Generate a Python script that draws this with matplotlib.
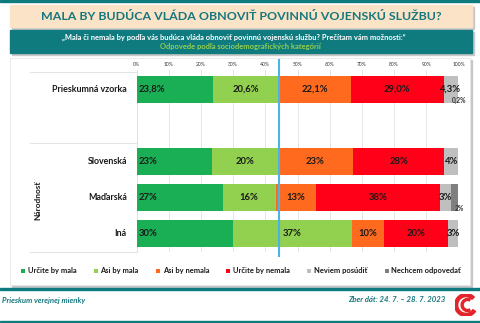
import matplotlib
matplotlib.use("Agg")
import matplotlib.pyplot as plt
from matplotlib.patches import Rectangle, Arc
import numpy as np

plt.rcParams['font.family'] = ['Lato', 'DejaVu Sans']

# ---------------- data ----------------
categories = ["Prieskumná vzorka", "Slovenská", "Maďarská", "Iná"]
positions = [0, 2, 3, 4]
series_names = ["Určite by mala", "Asi by mala", "Asi by nemala",
                "Určite by nemala", "Neviem posúdiť", "Nechcem odpovedať"]
urcite_by_mala = [23.8, 23.4, 26.8, 30.0]
asi_by_mala = [20.6, 20.4, 16.4, 36.8]
asi_by_nemala = [22.1, 23.4, 12.7, 10.0]
urcite_by_nemala = [29.0, 28.4, 38.3, 19.9]
neviem = [4.3, 4.2, 3.4, 3.3]
nechcem = [0.2, 0.2, 2.4, 0.0]
labels = [
    ["23,8%", "23%", "27%", "30%"],
    ["20,6%", "20%", "16%", "37%"],
    ["22,1%", "23%", "13%", "10%"],
    ["29,0%", "28%", "38%", "20%"],
    ["4,3%", "4%", "3%", "3%"],
    ["0,2%", "", "2%", ""],
]
ticks = [0, 10, 20, 30, 40, 50, 60, 70, 80, 90, 100]
tick_labels = [f"{t}%" for t in ticks]
positive_total = 44.4

colors = ["#1AAF54", "#92D050", "#FF6A1F", "#FF0018", "#BFBFBF", "#7F7F7F"]
series = [urcite_by_mala, asi_by_mala, asi_by_nemala, urcite_by_nemala, neviem, nechcem]

W, H = 480, 323
fig = plt.figure(figsize=(W / 100, H / 100), dpi=100)

def fx(x):
    return x / W

def fy(y):
    return 1 - y / H

teal = "#0F7B7F"

def rect(x, y_bottom, w, h, **kw):
    kw.setdefault("zorder", -5)
    fig.add_artist(Rectangle((fx(x), fy(y_bottom)), w / W, h / H, transform=fig.transFigure, **kw))

# top teal line
rect(0, 2, W, 2, color=teal)
# title box (shadow + box)
rect(12, 29, 462, 22, color="#C8C8C8")
rect(10, 27, 462, 22, color="#FAE3C6")
fig.text(fx(241), fy(16), "MALA BY BUDÚCA VLÁDA OBNOVIŤ POVINNÚ VOJENSKÚ SLUŽBU?",
         ha="center", va="center", fontsize=8.9, fontweight="bold", color="#16777D")
# subtitle box
rect(12, 55, 462, 23, color="#C8C8C8")
rect(10, 53, 462, 23, color=teal)
fig.text(fx(234), fy(37.5), "„Mala či nemala by podľa vás budúca vláda obnoviť povinnú vojenskú službu? Prečítam vám možnosti:“",
         ha="center", va="center", fontsize=5.4, fontweight="bold", color="white")
fig.text(fx(240), fy(46.5), "Odpovede podľa sociodemografických kategórií",
         ha="center", va="center", fontsize=5.4, fontweight="bold", color="#92D050")

# outer white box with shadow
rect(12, 287, 460, 227, color="#C8C8C8")
rect(10, 285, 460, 227, facecolor="white", edgecolor="#E6E6E6", lw=0.6)

# left panel lines
for yy in [72, 143, 252]:
    fig.add_artist(plt.Line2D([fx(30), fx(137)], [fy(yy), fy(yy)], color="#E4E4E4", lw=0.8,
                              transform=fig.transFigure, zorder=-1))

# axes
ax_top, ax_bot = 70, 252
ax = fig.add_axes([fx(136.5), fy(ax_bot), fx(458.5 - 136.5), (ax_bot - ax_top) / H])
ax.patch.set_alpha(0)
unit = 36.0
y_top = -(89.5 - ax_top) / unit
y_bot = 4 + (ax_bot - 233.5) / unit
ax.set_ylim(y_bot, y_top)
ax.set_xlim(0, 100)

left = np.zeros(len(categories))
for i, (vals, col) in enumerate(zip(series, colors)):
    vals = np.array(vals)
    ax.barh(positions, vals, left=left, height=0.76, color=col, zorder=3, label=series_names[i])
    for j, p in enumerate(positions):
        lab = labels[i][j]
        if not lab:
            continue
        if i == 0:
            ax.text(left[j] + 0.8, p, lab, ha="left", va="center", fontsize=6.8,
                    fontweight="bold", color="#1A1A1A", zorder=5)
        elif i == 5:
            ax.text(left[j] + vals[j] + 0.3, p + 0.3, lab, ha="center", va="center", fontsize=4.8,
                    fontweight="bold", color="#333333", zorder=5, clip_on=False)
        else:
            ax.text(left[j] + vals[j] / 2, p, lab, ha="center", va="center", fontsize=6.8,
                    fontweight="bold", color="#1A1A1A", zorder=5, clip_on=False)
    left = left + vals

ax.set_xticks(ticks)
ax.set_xticklabels(tick_labels, fontsize=3.6, color="#333333")
ax.xaxis.tick_top()
ax.tick_params(axis="x", length=0, pad=2)
ax.set_yticks([])
ax.grid(axis="x", color="#E2E2E2", lw=0.6, zorder=0)
for s in ["top", "right", "bottom"]:
    ax.spines[s].set_visible(False)
ax.spines["left"].set_color("#E0E0E0")
ax.spines["left"].set_linewidth(0.6)

# blue reference line
ax.plot([positive_total, positive_total], [4 + (256 - 233.5) / unit, -(89.5 - 60) / unit],
        color="#4BB4E6", lw=1.5, zorder=6, clip_on=False)

# category labels
for cat, p in zip(categories, positions):
    ax.text(-3.0, p, cat, ha="right", va="center", fontsize=6.4, fontweight="bold",
            color="#1A1A1A", clip_on=False)
fig.text(fx(38), fy(200), "Národnosť", rotation=90, ha="center", va="center",
         fontsize=6.0, fontweight="bold", color="#1A1A1A")

# legend
handles, lbls = ax.get_legend_handles_labels()
leg = fig.legend(handles, lbls, loc="center", bbox_to_anchor=(fx(241), fy(271)), ncol=6,
                 frameon=False, fontsize=5.4, handlelength=0.55, handleheight=0.55,
                 handletextpad=0.35, columnspacing=2.3)
for t in leg.get_texts():
    t.set_fontweight("bold")
    t.set_color("#1A1A1A")

# footer
rect(0, 290, W, 1.6, color=teal)
rect(0, 323, W, 2.0, color=teal)
fig.text(fx(2), fy(300), "Prieskum verejnej mienky", ha="left", va="center", fontsize=5.6,
         fontweight="bold", style="italic", color="#16777D")
fig.text(fx(445), fy(300), "Zber dát: 24. 7. – 28. 7. 2023", ha="right", va="center", fontsize=5.6,
         fontweight="bold", style="italic", color="#16777D")

# logo (red swirl)
lax = fig.add_axes([fx(455), fy(316), fx(22), 22 / H])
lax.set_xlim(-1, 1)
lax.set_ylim(-1, 1)
lax.set_aspect("equal")
lax.axis("off")
lax.add_patch(Arc((0, 0), 1.8, 1.8, theta1=40, theta2=330, color="#E3242B", lw=3.2))
lax.add_patch(Arc((0.15, 0.0), 1.0, 1.0, theta1=60, theta2=300, color="#E3242B", lw=2.4))

fig.savefig("out.png", dpi=100)
